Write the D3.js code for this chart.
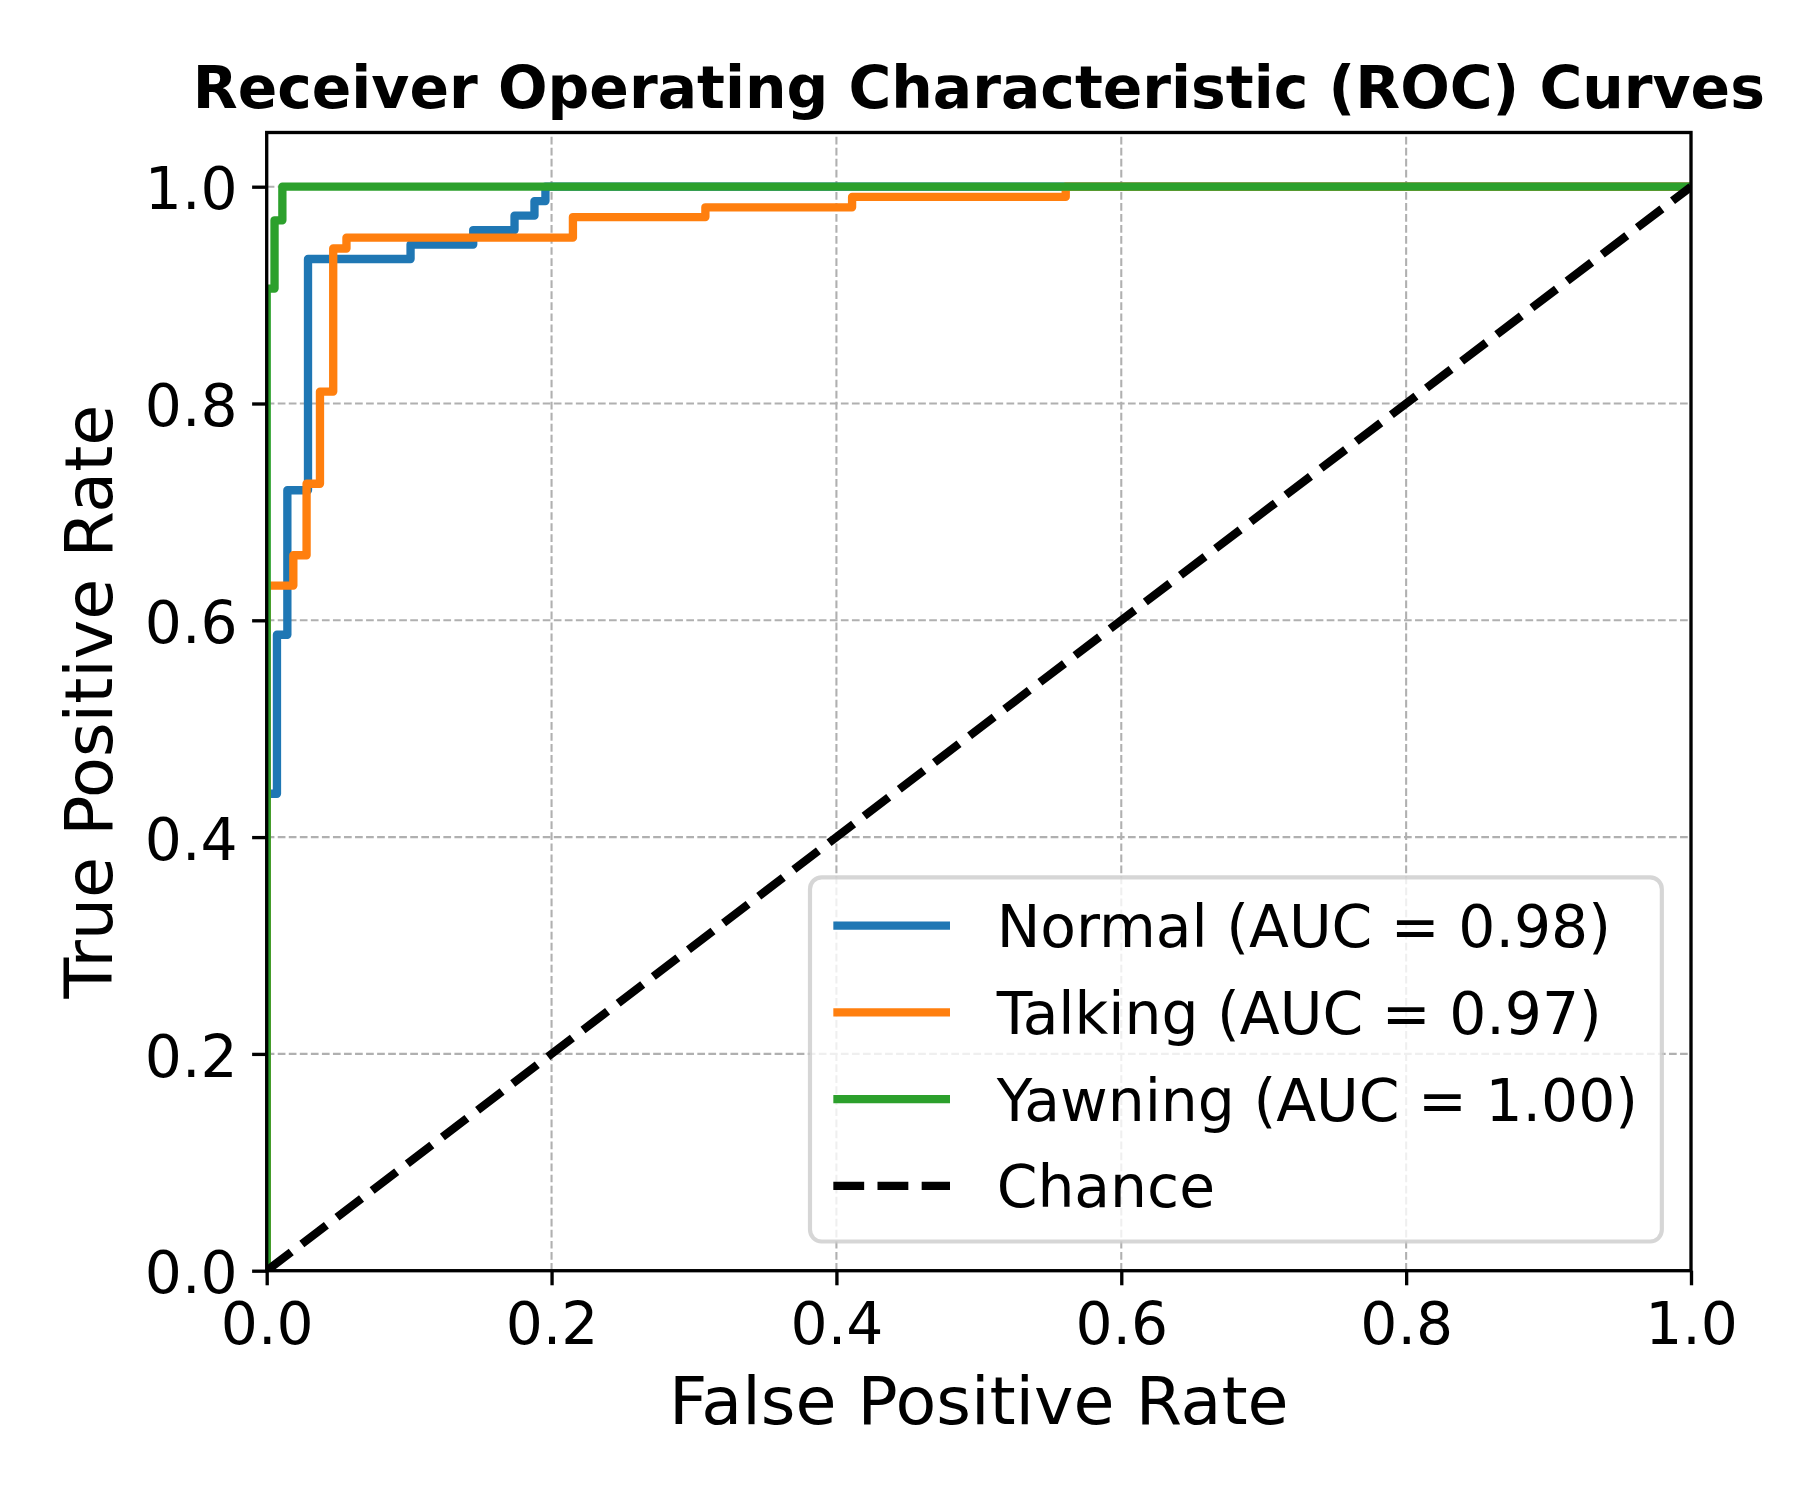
<!DOCTYPE html>
<html>
<head>
<meta charset="utf-8">
<script src="https://cdn.jsdelivr.net/npm/d3@7"></script>
<style>
  body { margin: 0; background: #fff; }
  text { font-family: 'DejaVu Sans', sans-serif; fill: #000; }
</style>
</head>
<body>
<div id="app"></div>
<script>

// ROC curve points (fpr / tpr corners)
var normalFpr  = [0, 0, 0.0072, 0.0072, 0.0145, 0.0145, 0.029, 0.029, 0.101, 0.101, 0.145, 0.145, 0.174, 0.174, 0.188, 0.188, 0.1957, 0.1957, 1]
var normalTpr  = [0, 0.44, 0.44, 0.5867, 0.5867, 0.72, 0.72, 0.9333, 0.9333, 0.9467, 0.9467, 0.96, 0.96, 0.9733, 0.9733, 0.9867, 0.9867, 1, 1]

var talkingFpr = [0, 0, 0.0187, 0.0187, 0.028, 0.028, 0.0374, 0.0374, 0.0467, 0.0467, 0.056, 0.056, 0.215, 0.215, 0.308, 0.308, 0.411, 0.411, 0.561, 0.561, 1]
var talkingTpr = [0, 0.632, 0.632, 0.660, 0.660, 0.726, 0.726, 0.811, 0.811, 0.943, 0.943, 0.953, 0.953, 0.972, 0.972, 0.981, 0.981, 0.9906, 0.9906, 1, 1]

var yawningFpr = [0, 0, 0.0055, 0.0055, 0.011, 0.011, 1]
var yawningTpr = [0, 0.906, 0.906, 0.969, 0.969, 1, 1]

var chanceFpr = [0, 1]
var chanceTpr = [0, 1]

var seriesNames = ['Normal', 'Talking', 'Yawning']
var seriesAuc = ['0.98', '0.97', '1.00']
var seriesColors = ['#1f77b4', '#ff7f0e', '#2ca02c']

var tickValues = [0, 0.2, 0.4, 0.6, 0.8, 1.0]

var width = 1800
var height = 1500
var pt = 300 / 72

var svg = d3.select('#app')
  .append('svg')
    .attr('width', width)
    .attr('height', height)

var x = d3.scaleLinear().domain([0, 1]).range([266.7, 1691])
var y = d3.scaleLinear().domain([0, 1.05]).range([1270.7, 132.5])

var x0 = x.range()[0], x1 = x.range()[1]
var yb = y.range()[0], yt = y.range()[1]

svg.append('defs').append('clipPath').attr('id', 'plotclip')
  .append('rect')
    .attr('x', x0).attr('y', yt)
    .attr('width', x1 - x0).attr('height', yb - yt)

// grid
var grid = svg.append('g')
  .attr('stroke', '#b0b0b0')
  .attr('stroke-width', 0.5 * pt)
  .attr('stroke-dasharray', (1.85 * pt) + ',' + (0.8 * pt))

grid.selectAll('.gx').data(tickValues)
  .enter().append('line')
    .attr('x1', function(d) { return x(d) }).attr('x2', function(d) { return x(d) })
    .attr('y1', yb).attr('y2', yt)

grid.selectAll('.gy').data(tickValues)
  .enter().append('line')
    .attr('y1', function(d) { return y(d) }).attr('y2', function(d) { return y(d) })
    .attr('x1', x0).attr('x2', x1)

// curves
var series = [
  { fpr: normalFpr, tpr: normalTpr },
  { fpr: talkingFpr, tpr: talkingTpr },
  { fpr: yawningFpr, tpr: yawningTpr }
]

var line = d3.line()
  .x(function(d) { return x(d[0]) })
  .y(function(d) { return y(d[1]) })

var plot = svg.append('g').attr('clip-path', 'url(#plotclip)')

series.forEach(function(s, i) {
  plot.append('path')
    .datum(d3.zip(s.fpr, s.tpr))
    .attr('d', line)
    .attr('fill', 'none')
    .attr('stroke', seriesColors[i])
    .attr('stroke-width', 2 * pt)
    .attr('stroke-linejoin', 'round')
    .attr('stroke-linecap', 'square')
})

plot.append('path')
  .datum(d3.zip(chanceFpr, chanceTpr))
  .attr('d', line)
  .attr('fill', 'none')
  .attr('stroke', '#000')
  .attr('stroke-width', 2 * pt)
  .attr('stroke-dasharray', (7.4 * pt) + ',' + (3.2 * pt))

// axes
var fmt = d3.format('.1f')
var tickLen = 3.5 * pt

var xAxis = svg.append('g')
  .attr('transform', 'translate(0,' + yb + ')')
  .call(d3.axisBottom(x).tickValues(tickValues).tickFormat(fmt).tickSize(tickLen).tickPadding(tickLen))

var yAxis = svg.append('g')
  .attr('transform', 'translate(' + x0 + ',0)')
  .call(d3.axisLeft(y).tickValues(tickValues).tickFormat(fmt).tickSize(tickLen).tickPadding(tickLen))

;[xAxis, yAxis].forEach(function(a) {
  a.select('.domain').remove()
  a.selectAll('.tick line').attr('stroke', '#000').attr('stroke-width', 0.8 * pt)
  a.selectAll('.tick text')
    .style('font-family', "'DejaVu Sans', sans-serif")
    .style('font-size', (14 * pt) + 'px')
})
xAxis.selectAll('.tick text').attr('dy', '0.76em')
yAxis.selectAll('.tick text').attr('dy', '0.38em')

// spines
svg.append('rect')
  .attr('x', x0).attr('y', yt)
  .attr('width', x1 - x0).attr('height', yb - yt)
  .attr('fill', 'none')
  .attr('stroke', '#000')
  .attr('stroke-width', 0.8 * pt)
  .attr('stroke-linecap', 'square')

// labels
svg.append('text')
  .attr('x', (x0 + x1) / 2)
  .attr('y', 107.5)
  .attr('text-anchor', 'middle')
  .style('font-size', (14 * pt) + 'px')
  .style('font-weight', 'bold')
  .text('Receiver Operating Characteristic (ROC) Curves')

svg.append('text')
  .attr('x', (x0 + x1) / 2)
  .attr('y', 1424)
  .attr('text-anchor', 'middle')
  .style('font-size', (16 * pt) + 'px')
  .text('False Positive Rate')

svg.append('text')
  .attr('transform', 'translate(112,' + ((yt + yb) / 2) + ') rotate(-90)')
  .attr('text-anchor', 'middle')
  .style('font-size', (16 * pt) + 'px')
  .text('True Positive Rate')

// legend
var fs = 14 * pt
var legendItems = seriesNames.map(function(n, i) {
  return { label: n + ' (AUC = ' + seriesAuc[i] + ')', color: seriesColors[i], dash: null }
})
legendItems.push({ label: 'Chance', color: '#000', dash: (7.4 * pt) + ',' + (3.2 * pt) })

var lgRight = x1 - 0.5 * fs
var lgBottom = yb - 0.5 * fs
var lgLeft = 810
var lgTop = 877.3

var legend = svg.append('g')

legend.append('rect')
  .attr('x', lgLeft).attr('y', lgTop)
  .attr('width', lgRight - lgLeft).attr('height', lgBottom - lgTop)
  .attr('rx', 0.2 * fs)
  .attr('fill', '#fff').attr('fill-opacity', 0.8)
  .attr('stroke', '#ccc').attr('stroke-opacity', 0.8)
  .attr('stroke-width', 1 * pt)

var rowY = d3.scaleLinear().domain([0, 3]).range([925.7, 1185.8])
var hx0 = lgLeft + 0.4 * fs
var hx1 = hx0 + 2.0 * fs

var rows = legend.selectAll('.row').data(legendItems)
  .enter().append('g')
    .attr('transform', function(d, i) { return 'translate(0,' + rowY(i) + ')' })

rows.append('line')
  .attr('x1', function(d) { return d.dash ? hx0 : hx0 + pt })
  .attr('x2', function(d) { return d.dash ? hx1 : hx1 - pt })
  .attr('stroke', function(d) { return d.color })
  .attr('stroke-width', 2 * pt)
  .attr('stroke-linecap', function(d) { return d.dash ? 'butt' : 'square' })
  .attr('stroke-dasharray', function(d) { return d.dash })

rows.append('text')
  .attr('x', hx1 + 0.8 * fs)
  .attr('y', 21.6)
  .style('font-size', fs + 'px')
  .text(function(d) { return d.label })

</script>
</body>
</html>
